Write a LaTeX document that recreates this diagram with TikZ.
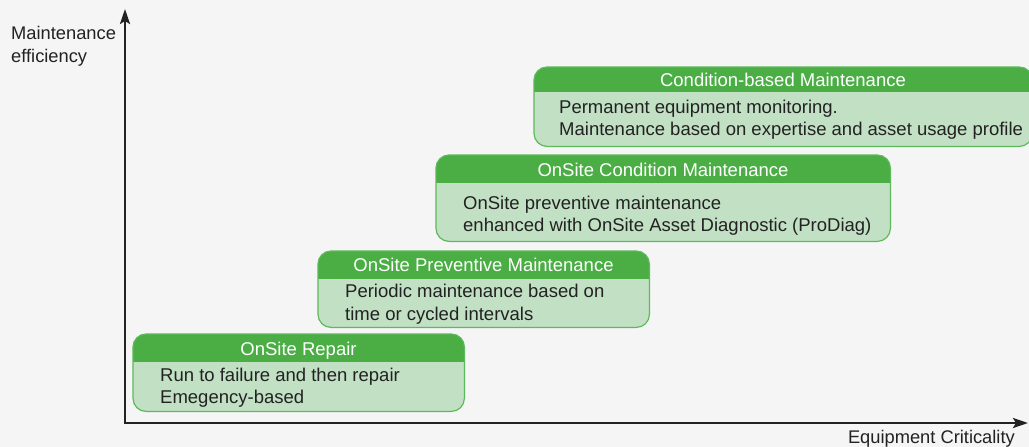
\documentclass[tikz,border=0pt]{standalone}
\usepackage{fontspec}
\setmainfont{Liberation Sans}
\usetikzlibrary{arrows.meta}
\definecolor{bg}{HTML}{F5F5F5}
\definecolor{hdr}{HTML}{4BAE45}
\definecolor{bodyg}{HTML}{C2E0C4}
\definecolor{edgeg}{HTML}{5DB95A}
\definecolor{txt}{HTML}{222222}
\tikzset{
  axis/.style={line width=2.4pt, draw=txt, -{Stealth[length=15pt,width=10pt,inset=3pt]}},
  boxarea/.style={anchor=north west, inner sep=0pt, draw=none},
  boxframe/.style={draw=edgeg, line width=1.2pt, rounded corners=13pt},
  title/.style={text=white, font=\fontsize{18.5}{22}\selectfont, inner sep=0pt, anchor=base},
  body/.style={text=txt, font=\fontsize{18.5}{22}\selectfont, anchor=base west, inner sep=0pt},
  lab/.style={text=txt, font=\fontsize{18.3}{22}\selectfont, inner sep=0pt}
}
\newcommand{\greenbox}[2]{% #1 node name, #2 header height
  \begin{scope}
    \clip[rounded corners=13pt] (#1.north west) rectangle (#1.south east);
    \fill[bodyg] (#1.north west) rectangle (#1.south east);
    \fill[hdr] (#1.north west) rectangle ([yshift=-#2]#1.north east);
  \end{scope}
  \draw[boxframe] (#1.north west) rectangle (#1.south east);
}
\begin{document}
\begin{tikzpicture}[x=1pt,y=-1pt]
\useasboundingbox (0,0) rectangle (1029,447);
\clip (0,0) rectangle (1029,447);
\fill[bg] (0,0) rectangle (1029,447);
% axes
\coordinate (o) at (125,423);
\coordinate (ytop) at (125,9);
\coordinate (xend) at (1028,423);
\draw[axis] ([yshift=-1.2pt]o) -- (ytop);
\draw[axis] ([xshift=-1.2pt]o) -- (xend);
\node[lab, anchor=base west] (ylab1) at (11,39) {Maintenance};
\node[lab, anchor=base west] (ylab2) at (11,62.5) {efficiency};
\node[lab, anchor=base east] (xlab) at (1015,443.5) {Equipment Criticality};
% box 1
\node[boxarea, minimum width=331pt, minimum height=77pt] (b1) at (133,334) {};
\greenbox{b1}{28pt}
\node[title] (t1) at (298.5,355) {OnSite Repair};
\node[body] (d1a) at (160,381.5) {Run to failure and then repair};
\node[body] (d1b) at (160,403) {Emegency-based};
% box 2
\node[boxarea, minimum width=331pt, minimum height=76pt] (b2) at (318,251) {};
\greenbox{b2}{28pt}
\node[title] (t2) at (483.5,271.5) {OnSite Preventive Maintenance};
\node[body] (d2a) at (345,297.5) {Periodic maintenance based on};
\node[body] (d2b) at (345,320) {time or cycled intervals};
% box 3
\node[boxarea, minimum width=454pt, minimum height=86pt] (b3) at (436,155) {};
\greenbox{b3}{28pt}
\node[title] (t3) at (663,176) {OnSite Condition Maintenance};
\node[body] (d3a) at (463,209) {OnSite preventive maintenance};
\node[body] (d3b) at (463,231) {enhanced with OnSite Asset Diagnostic (ProDiag)};
% box 4
\node[boxarea, minimum width=498pt, minimum height=79pt] (b4) at (534,67) {};
\greenbox{b4}{25pt}
\node[title] (t4) at (783,86.5) {Condition-based Maintenance};
\node[body] (d4a) at (559,113) {Permanent equipment monitoring.};
\node[body] (d4b) at (559,135) {Maintenance based on expertise and asset usage profile};
\end{tikzpicture}
\end{document}
